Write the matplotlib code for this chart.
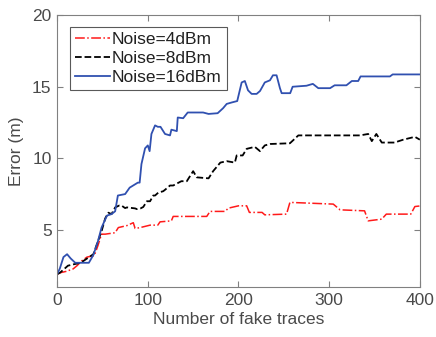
import matplotlib
matplotlib.use('Agg')
import matplotlib.pyplot as plt

plt.rcParams['font.family'] = ['Liberation Sans', 'DejaVu Sans']

# Noise=4dBm
x_4 = [0, 3, 10, 17.6, 22, 27, 33, 41, 45, 49, 53, 64, 67.5, 77, 84, 86, 91, 102.5, 111, 113.5,
       126, 128, 165, 168.6, 185, 189, 200, 209, 212, 226, 229, 253, 256.7, 304.5, 312, 339,
       343, 358, 363, 390, 394.5, 400]
y_4 = [1.9, 2.0, 2.1, 2.27, 2.5, 2.83, 3.1, 3.2, 3.9, 4.7, 4.7, 4.8, 5.16, 5.3, 5.5, 5.1, 5.15, 5.33,
       5.33, 5.56, 5.63, 5.94, 5.94, 6.29, 6.29, 6.52, 6.68, 6.68, 6.22, 6.22, 6.05, 6.1, 6.92, 6.8,
       6.4, 6.33, 5.63, 5.75, 6.1, 6.1, 6.63, 6.67]

# Noise=8dBm
x_8 = [0, 3, 12, 18.7, 26, 33, 40, 45, 49, 53, 56.5, 60, 64, 68.5, 71, 75, 77, 86, 88, 92, 95, 99,
       102.5, 106, 108, 111.5, 117, 119, 124.5, 128, 137, 143, 150, 154, 167, 172, 180, 187, 196,
       198, 204.6, 209, 218, 223.7, 229, 235, 256.7, 266, 334, 343, 347, 352, 358, 372, 381.6,
       394.5, 400]
y_8 = [1.9, 2.0, 2.5, 2.6, 2.7, 3.0, 3.3, 4.2, 4.9, 5.8, 6.2, 6.1, 6.57, 6.7, 6.7, 6.52, 6.57, 6.5,
       6.45, 6.5, 6.6, 7.0, 7.0, 7.4, 7.4, 7.6, 7.7, 7.8, 8.1, 8.1, 8.4, 8.4, 9.1, 8.67, 8.6, 9.1,
       9.7, 9.8, 9.7, 10.2, 10.2, 10.66, 10.8, 10.5, 10.9, 11.0, 11.05, 11.6, 11.6, 11.7, 11.2,
       11.7, 11.1, 11.1, 11.3, 11.5, 11.3]

# Noise=16dBm
x_16 = [0, 3, 7, 11, 15, 20, 35, 40, 45, 49, 55, 60, 64, 67, 75, 80, 89, 91, 93, 97, 100, 102,
        104, 108, 111, 114, 119, 124.5, 126, 132, 133, 139, 144, 161, 167, 177, 183, 187, 192.5,
        198.6, 203.5, 207, 210.5, 214.5, 220, 223.7, 229, 234.7, 238, 242, 245.7, 247.6, 257,
        259.7, 275, 282, 288, 301, 306, 319, 325, 332, 334.6, 367, 370, 400]
y_16 = [1.9, 2.3, 3.1, 3.3, 3.0, 2.7, 2.7, 3.25, 4.2, 5.16, 6.0, 6.1, 6.3, 7.4, 7.5, 7.95, 8.3,
        8.3, 9.6, 10.7, 10.9, 10.5, 11.7, 12.3, 12.2, 12.2, 11.7, 11.6, 12.0, 11.9, 12.85, 12.8,
        13.2, 13.2, 13.1, 13.15, 13.5, 13.8, 13.9, 14.0, 15.3, 15.4, 14.75, 14.5, 14.5, 14.7,
        15.3, 15.45, 15.8, 15.8, 14.9, 14.55, 14.55, 15.0, 15.07, 15.2, 14.9, 14.9, 15.1, 15.1,
        15.4, 15.4, 15.72, 15.72, 15.86, 15.86]

fig = plt.figure(figsize=(4.36, 3.37), dpi=100)
ax = fig.add_axes([0.131, 0.148, 0.832, 0.807])

ax.plot(x_4, y_4, color='#ff1a1a', linestyle='-.', linewidth=1.1, label='Noise=4dBm')
ax.plot(x_8, y_8, color='black', linestyle='--', linewidth=1.3, label='Noise=8dBm')
ax.plot(x_16, y_16, color='#3050b0', linestyle='-', linewidth=1.3, label='Noise=16dBm')

ax.set_xlim(0, 400)
ax.set_ylim(1, 20)
ax.set_xticks([0, 100, 200, 300, 400])
ax.set_yticks([5, 10, 15, 20])

grey = '#4a4a4a'
for s in ax.spines.values():
    s.set_color('#808080')
    s.set_linewidth(0.8)
ax.tick_params(direction='in', length=4, width=0.8, top=True, right=True,
               colors='#808080', labelcolor=grey, labelsize=12.5, pad=4)

ax.set_xlabel('Number of fake traces', fontsize=12.5, color=grey, labelpad=3)
ax.set_ylabel('Error (m)', fontsize=12.5, color=grey, labelpad=6)

leg = ax.legend(loc='upper left', bbox_to_anchor=(0.036, 0.956), fontsize=12.5, frameon=True,
                fancybox=False, handlelength=2.0, handletextpad=0.1, borderpad=0.3,
                labelspacing=0.2, borderaxespad=0)
leg.get_frame().set_edgecolor('#303030')
leg.get_frame().set_linewidth(0.8)
for t in leg.get_texts():
    t.set_color('#202020')

plt.savefig('out.png', dpi=100)
